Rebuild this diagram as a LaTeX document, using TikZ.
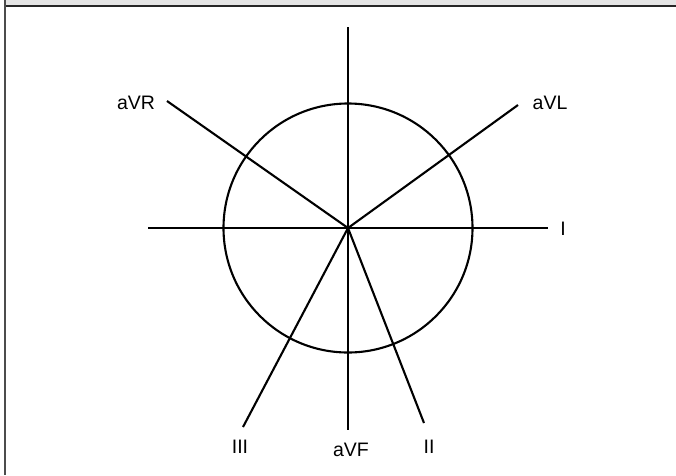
\documentclass[tikz,border=0pt]{standalone}
\usepackage{fontspec}
\setmainfont{Liberation Sans}
\begin{document}
\begin{tikzpicture}[x=1pt,y=-1pt,
  axis/.style={line width=2.1pt,line cap=butt},
  lbl/.style={inner sep=0pt,font=\fontsize{19.5}{22}\selectfont}]
\useasboundingbox (0,0) rectangle (676,475);
\fill[white] (0,0) rectangle (676,475);
% header band and frame
\fill[black!10] (5,0) rectangle (676,5);
\draw[line width=1.8pt,black!85] (5,5.6) -- (676,5.6);
\draw[line width=1.8pt,black!70] (5,0) -- (5,475);
% centre and circle
\coordinate (c) at (348,228);
\draw[axis] (c) circle (124.5);
% ends of the leads
\coordinate (eI) at (548,228);
\coordinate (eL) at (148,228);
\coordinate (eT) at (348,27);
\coordinate (eF) at (348,430);
\coordinate (eVR) at (167,101);
\coordinate (eVL) at (518,105);
\coordinate (eII) at (424,423);
\coordinate (eIII) at (243,427);
\draw[axis] (eL) -- (eI);
\draw[axis] (eT) -- (eF);
\draw[axis] (eVR) -- (c);
\draw[axis] (eVL) -- (c);
\draw[axis] (eII) -- (c);
\draw[axis] (eIII) -- (c);
% labels
\node[lbl] (tVR) at (136,103) {aVR};
\node[lbl] (tVL) at (550,103) {aVL};
\node[lbl] (tI) at (563,229) {I};
\node[lbl] (tIII) at (240,447) {III};
\node[lbl] (tF) at (351,450) {aVF};
\node[lbl] (tII) at (429,447) {II};
\end{tikzpicture}
\end{document}
